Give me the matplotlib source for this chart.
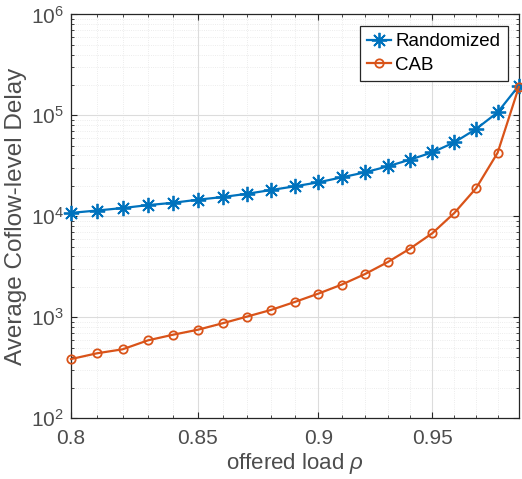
import numpy as np
import matplotlib
matplotlib.use("Agg")
import matplotlib.pyplot as plt
from matplotlib.ticker import FixedLocator, LogLocator, NullFormatter

load = [0.80, 0.81, 0.82, 0.83, 0.84, 0.85, 0.86, 0.87, 0.88, 0.89,
        0.90, 0.91, 0.92, 0.93, 0.94, 0.95, 0.96, 0.97, 0.98, 0.99]
randomized = [10800, 11400, 12060, 12900, 13600, 14600, 15500, 16700, 18200, 19800,
              21700, 24300, 27200, 31200, 36400, 43000, 54000, 73300, 107000, 197000]
cab = [385, 439, 481, 590, 671, 752, 871, 1014, 1181, 1417,
       1714, 2105, 2670, 3510, 4790, 6800, 10800, 19000, 42600, 191000]
xticks = [0.8, 0.85, 0.9, 0.95]
xtick_labels = ["0.8", "0.85", "0.9", "0.95"]

plt.rcParams['font.family'] = ['Liberation Sans', 'DejaVu Sans']
plt.rcParams['mathtext.fontset'] = 'custom'
plt.rcParams['mathtext.rm'] = 'Liberation Sans'
plt.rcParams['mathtext.it'] = 'Liberation Sans:italic'
plt.rcParams['mathtext.default'] = 'regular'

# slightly compressed horizontal scale (as in the reference picture)
A, B = 26.0, -0.130
def fwd(x):
    t = (np.asarray(x, float) - 0.8) / 0.01
    return A * t + B * t * t
def inv(p):
    p = np.asarray(p, float)
    disc = np.maximum(A * A + 4 * B * p, 0)
    t = (-A + np.sqrt(disc)) / (2 * B)
    return 0.8 + 0.01 * t

fig = plt.figure(figsize=(5.22, 4.79), dpi=100)
ax = fig.add_axes([0.136, 0.127, 0.858, 0.843])
ax.set_xscale('function', functions=(fwd, inv))
ax.set_yscale('log')

blue = '#0072BD'
orange = '#D95319'
ax.plot(load, randomized, color=blue, marker=(8, 2, 0), markersize=11, lw=1.6,
        markeredgewidth=1.3, label='Randomized', clip_on=False, zorder=3)
ax.plot(load, cab, color=orange, marker='o', markersize=6, lw=1.6,
        markerfacecolor='none', markeredgewidth=1.3, label='CAB', clip_on=False, zorder=3)

ax.set_xlim(0.8, 0.99)
ax.set_ylim(1e2, 1e6)
ax.xaxis.set_major_locator(FixedLocator(xticks))
ax.set_xticklabels(xtick_labels)
ax.xaxis.set_minor_locator(FixedLocator(load))
ax.xaxis.set_minor_formatter(NullFormatter())
ax.yaxis.set_major_locator(LogLocator(base=10, numticks=10))
ax.yaxis.set_minor_locator(LogLocator(base=10, subs=np.arange(2, 10), numticks=20))
ax.yaxis.set_minor_formatter(NullFormatter())

ax.grid(True, which='major', color='#dcdcdc', lw=0.8)
ax.grid(True, which='minor', color='#e6e6e6', lw=0.6, linestyle=':')
ax.set_axisbelow(True)

dark = '#262626'
for s in ax.spines.values():
    s.set_color(dark)
    s.set_linewidth(0.9)
ax.tick_params(which='both', direction='in', top=True, right=True, colors=dark,
               labelcolor='#4d4d4d', labelsize=15)
ax.tick_params(which='major', length=4)
ax.tick_params(which='minor', length=2.5)
ax.tick_params(axis='x', pad=8)
ax.tick_params(axis='y', pad=5)

ax.set_xlabel(r'offered load $\it{\rho}$', fontsize=16, color='#4d4d4d', labelpad=2)
ax.set_ylabel('Average Coflow-level Delay', fontsize=17.5, color='#4d4d4d', labelpad=3)

leg = ax.legend(loc='upper right', bbox_to_anchor=(0.975, 0.972), borderaxespad=0,
                fontsize=13.5, fancybox=False, framealpha=1, edgecolor=dark,
                handlelength=1.3, handletextpad=0.2, borderpad=0.4, labelspacing=0.35)
leg.get_frame().set_linewidth(0.9)

fig.savefig('out.png', dpi=100)
